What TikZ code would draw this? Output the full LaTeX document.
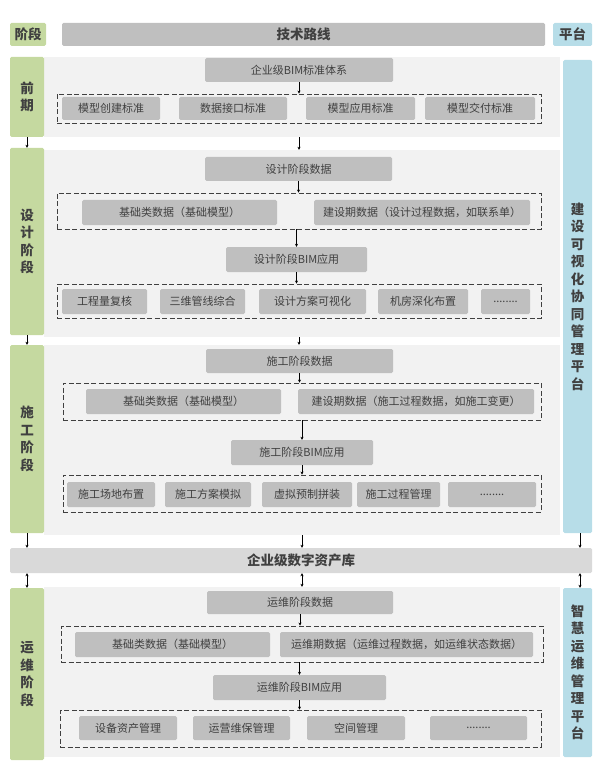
\documentclass[tikz,border=0pt]{standalone}
\usepackage{fontspec}
\setmainfont{Noto Sans CJK SC}
\usetikzlibrary{arrows.meta}
\definecolor{stagegreen}{HTML}{C5D9A0}
\definecolor{boxgray}{HTML}{BFBFBF}
\definecolor{panelgray}{HTML}{F2F2F2}
\definecolor{platblue}{HTML}{B7DDE8}
\definecolor{txtgray}{HTML}{404040}
\tikzset{
  blk/.style={rectangle,rounded corners=1.5pt,inner sep=0pt,text=txtgray},
  gbox/.style={blk,fill=boxgray,font=\fontsize{11}{13}\selectfont},
  panel/.style={blk,fill=panelgray,rounded corners=0pt},
  stage/.style={blk,fill=stagegreen,font=\fontsize{13.5}{17.5}\selectfont\bfseries,align=center},
  plat/.style={blk,fill=platblue,font=\fontsize{13.5}{17.5}\selectfont\bfseries,align=center},
  grp/.style={rectangle,draw=txtgray,dash pattern=on 5pt off 2.5pt,line width=0.9pt,inner sep=0pt},
  arr/.style={-{Stealth[length=3pt,width=3pt]},line width=0.6pt,black},
  darr/.style={{Stealth[length=3pt,width=3pt]}-{Stealth[length=3pt,width=3pt]},line width=0.6pt,black}
}
% #1 style, #2 name, #3-#6 x1,y1,x2,y2 in px, #7 text
\newcommand\bx[7]{\node[#1,minimum width={#5-#3},minimum height={#6-#4}] (#2) at ({(#3+#5)/2},{-(#4+#6)/2}) {#7};}
\begin{document}
\begin{tikzpicture}[x=1pt,y=1pt]
\useasboundingbox (0,0) rectangle (600,-767);
% header
\bx{stage}{hstage}{10}{23}{46}{46}{阶段}
\bx{blk,fill=boxgray,font=\fontsize{13.5}{15}\selectfont\bfseries}{hroute}{62}{23}{545}{46}{技术路线}
\bx{plat}{hplat}{553}{23}{592}{46}{平台}
% panels
\bx{panel}{p1}{44}{57}{560}{137}{}
\bx{panel}{p2}{44}{150}{560}{337}{}
\bx{panel}{p3}{44}{345}{560}{535}{}
\bx{panel}{p4}{44}{587}{560}{757}{}
\bx{stage}{s1}{10}{57}{44}{137}{前\\期}
\bx{stage}{s2}{10}{148}{44}{335}{设\\计\\阶\\段}
\bx{stage}{s3}{10}{345}{44}{533}{施\\工\\阶\\段}
\bx{stage}{s4}{10}{588}{44}{760}{运\\维\\阶\\段}
\bx{plat}{b1}{563}{60}{592}{533}{建\\设\\可\\视\\化\\协\\同\\管\\理\\平\\台}
\bx{plat}{b2}{563}{588}{592}{757}{智\\慧\\运\\维\\管\\理\\平\\台}
\bx{blk,fill=boxgray!60,font=\fontsize{13.5}{15}\selectfont\bfseries}{lib}{10}{548}{592}{573}{企业级数字资产库}
% early stage
\bx{gbox}{std}{205}{58}{393}{82}{企业级BIM标准体系}
\bx{grp}{g1}{57}{94}{541}{123}{}
\bx{gbox}{std1}{62}{97}{160}{120}{模型创建标准}
\bx{gbox}{std2}{179}{97}{287}{120}{数据接口标准}
\bx{gbox}{std3}{306}{97}{415}{120}{模型应用标准}
\bx{gbox}{std4}{425}{97}{535}{120}{模型交付标准}
% design stage
\bx{gbox}{dd}{205}{157}{392}{181}{设计阶段数据}
\bx{grp}{g2}{57}{193}{541}{229}{}
\bx{gbox}{dd1}{82}{200}{277}{225}{基础类数据（基础模型）}
\bx{gbox}{dd2}{314}{200}{530}{225}{建设期数据（设计过程数据，如联系单）}
\bx{gbox}{da}{226}{247}{367}{272}{设计阶段BIM应用}
\bx{grp}{g3}{57}{284}{541}{318}{}
\bx{gbox}{da1}{62}{289}{147}{314}{工程量复核}
\bx{gbox}{da2}{160}{289}{245}{314}{三维管线综合}
\bx{gbox}{da3}{259}{289}{366}{314}{设计方案可视化}
\bx{gbox}{da4}{378}{289}{468}{314}{机房深化布置}
\bx{gbox}{da5}{481}{289}{530}{314}{........}
% construction stage
\bx{gbox}{cd}{206}{349}{393}{373}{施工阶段数据}
\bx{grp}{g4}{63}{383}{541}{420}{}
\bx{gbox}{cd1}{86}{389}{281}{414}{基础类数据（基础模型）}
\bx{gbox}{cd2}{298}{389}{534}{414}{建设期数据（施工过程数据，如施工变更）}
\bx{gbox}{ca}{231}{440}{373}{465}{施工阶段BIM应用}
\bx{grp}{g5}{63}{475}{541}{512}{}
\bx{gbox}{ca1}{67}{482}{155}{507}{施工场地布置}
\bx{gbox}{ca2}{165}{482}{251}{507}{施工方案模拟}
\bx{gbox}{ca3}{262}{482}{352}{507}{虚拟预制拼装}
\bx{gbox}{ca4}{357}{482}{440}{507}{施工过程管理}
\bx{gbox}{ca5}{448}{482}{536}{507}{........}
% operation stage
\bx{gbox}{od}{207}{591}{393}{614}{运维阶段数据}
\bx{grp}{g6}{61}{626}{543}{662}{}
\bx{gbox}{od1}{75}{632}{270}{657}{基础类数据（基础模型）}
\bx{gbox}{od2}{280}{632}{533}{657}{运维期数据（运维过程数据，如运维状态数据）}
\bx{gbox}{oa}{213}{675}{386}{700}{运维阶段BIM应用}
\bx{grp}{g7}{60}{710}{541}{747}{}
\bx{gbox}{oa1}{79}{716}{177}{740}{设备资产管理}
\bx{gbox}{oa2}{193}{716}{290}{740}{运营维保管理}
\bx{gbox}{oa3}{307}{716}{405}{740}{空间管理}
\bx{gbox}{oa4}{430}{716}{527}{740}{........}
% connectors
\draw[arr] (std.south) -- (std.south |- g1.north);
\draw[arr] (dd.south) -- (dd.south |- g2.north);
\draw[arr] (g2.south -| da.north) -- (da.north);
\draw[arr] (da.south) -- (da.south |- g3.north);
\draw[arr] (cd.south) -- (cd.south |- g4.north);
\draw[arr] (g4.south -| ca.north) -- (ca.north);
\draw[arr] (ca.south) -- (ca.south |- g5.north);
\draw[arr] (od.south) -- (od.south |- g6.north);
\draw[arr] (g6.south -| oa.north) -- (oa.north);
\draw[arr] (oa.south) -- (oa.south |- g7.north);
\draw[arr] (s1.south) -- (s2.north);
\draw[arr] (p1.south -| std.south) -- (p2.north -| std.south);
\draw[arr] (s2.south) -- (s3.north);
\draw[arr] (p2.south -| std.south) -- (p3.north -| std.south);
\draw[arr] (s3.south) -- (s3.south |- lib.north);
\draw[arr] (p3.south -| 302,0) -- (lib.north -| 302,0);
\draw[arr] (b1.south -| 580,0) -- (lib.north -| 580,0);
\draw[darr] (lib.south -| s4.north) -- (s4.north);
\draw[darr] (lib.south -| 302,0) -- (p4.north -| 302,0);
\draw[darr] (lib.south -| 580,0) -- (b2.north -| 580,0);
\end{tikzpicture}
\end{document}
